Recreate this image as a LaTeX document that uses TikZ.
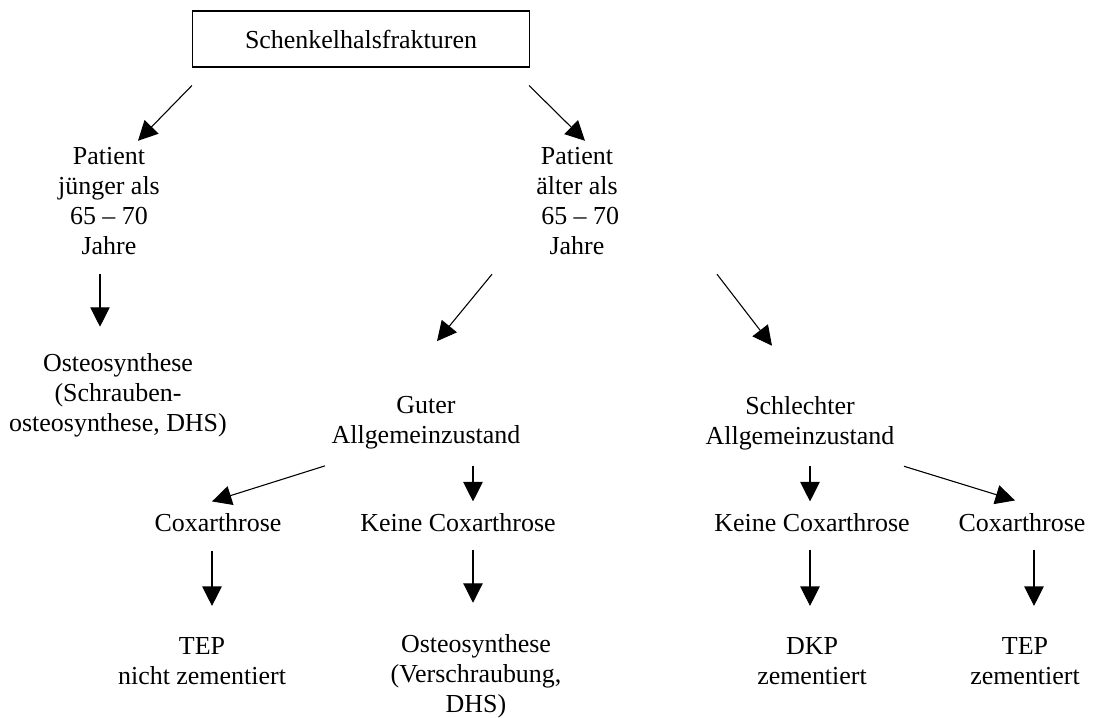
\documentclass[tikz,border=0pt]{standalone}
\usepackage{fontspec}
\setmainfont{Liberation Serif}
\usetikzlibrary{arrows.meta,calc}

\begin{document}
\begin{tikzpicture}[
  x=0.4625pt, y=-0.4625pt,
  txt/.style={
    align=center, inner sep=0pt,
    font=\fontsize{12}{13.9}\selectfont
  },
  kasten/.style={
    txt, draw, line width=0.5pt,
    minimum width=155.9pt, minimum height=25.9pt
  },
  pfeil/.style={
    -{Triangle[length=9pt,width=9pt]}, line width=0.5pt
  }
]
  \useasboundingbox (0,0) rectangle (1094,718);
  \node[kasten] (fraktur) at (361,39) {Schenkelhalsfrakturen};
  % Alter
  \node[txt] (jung) at (109,201) {Patient\\jünger als\\65 -- 70\\Jahre};
  \node[txt] (alt) at (577,201) {Patient\\älter als\\\ 65 -- 70\\Jahre};
  \node[txt] (ost1) at (118,395) {Osteosynthese\\(Schrauben-\\osteosynthese, DHS)};
  % Allgemeinzustand
  \node[txt] (gut) at (426,423) {Guter\\Allgemeinzustand};
  \node[txt] (schl) at (800,423) {Schlechter\\Allgemeinzustand};
  \node[txt] (cox1) at (218,523) {Coxarthrose};
  \node[txt] (kein1) at (458,523) {Keine Coxarthrose};
  \node[txt] (kein2) at (812,523) {Keine Coxarthrose};
  \node[txt] (cox2) at (1022,523) {Coxarthrose};
  % Therapie
  \node[txt] (tep1) at (202,661) {TEP\\nicht zementiert};
  \node[txt] (ost2) at (476,676) {Osteosynthese\\(Verschraubung,\\DHS)};
  \node[txt] (dkp) at (812,661) {DKP\\zementiert};
  \node[txt] (tep2) at (1025,661) {TEP\\zementiert};

  \draw[pfeil] ($(fraktur.south west)+(0,18)$) -- ($(jung.north)+(29,-6)$);
  \draw[pfeil] ($(fraktur.south east)+(-1,18)$) -- ($(alt.north)+(8,-6)$);
  \draw[pfeil] ($(jung.south)+(-9,19)$) -- ($(ost1.north)+(-18,-26)$);
  \draw[pfeil] ($(alt.south)+(-85,19)$) -- ($(gut.north)+(11,-55)$);
  \draw[pfeil] ($(alt.south)+(140,19)$) -- ($(schl.north)+(-28,-50)$);
  \draw[pfeil] ($(gut.south)+(-101,16)$) -- ($(cox1.north)+(-6,-12)$);
  \draw[pfeil] ($(gut.south)+(47,16)$) -- ($(kein1.north)+(15,-12)$);
  \draw[pfeil] ($(schl.south)+(10,16)$) -- ($(kein2.north)+(-2,-12)$);
  \draw[pfeil] ($(schl.south)+(104,16)$) -- ($(cox2.north)+(-7,-13)$);
  \draw[pfeil] ($(cox1.south)+(-6,18)$) -- ($(tep1.north)+(10,-31)$);
  \draw[pfeil] ($(kein1.south)+(15,17)$) -- ($(ost2.north)+(-3,-31)$);
  \draw[pfeil] ($(kein2.south)+(-2,17)$) -- ($(dkp.north)+(-2,-31)$);
  \draw[pfeil] ($(cox2.south)+(12,17)$) -- ($(tep2.north)+(9,-31)$);
\end{tikzpicture}
\end{document}
